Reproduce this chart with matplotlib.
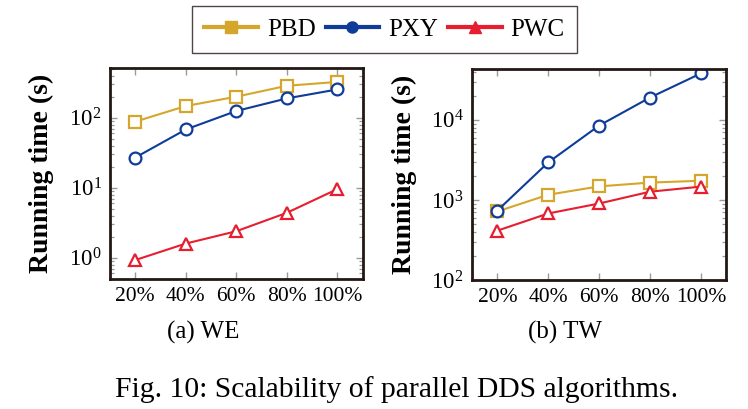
import matplotlib
matplotlib.use('Agg')
import matplotlib.pyplot as plt
from matplotlib.lines import Line2D
from matplotlib.ticker import LogLocator, NullFormatter

plt.rcParams['font.family'] = ['Liberation Serif', 'DejaVu Serif']
plt.rcParams['mathtext.fontset'] = 'stix'

fractions = [20, 40, 60, 80, 100]
frac_labels = ['20%', '40%', '60%', '80%', '100%']
series = ['PBD', 'PXY', 'PWC']

# running time (s)
we_pbd = [88, 147, 200, 286, 325]
we_pxy = [27, 68, 125, 189, 254]
we_pwc = [0.93, 1.6, 2.4, 4.4, 9.6]

tw_pbd = [720, 1165, 1480, 1650, 1740]
tw_pxy = [740, 2950, 8500, 19000, 38000]
tw_pwc = [415, 680, 905, 1270, 1470]

colors = {'PBD': '#D4A72C', 'PXY': '#0E3C98', 'PWC': '#E61E30'}
markers = {'PBD': 's', 'PXY': 'o', 'PWC': '^'}

fig = plt.figure(figsize=(7.48, 4.09), dpi=100)
ax1 = fig.add_axes([0.147, 0.318, 0.338, 0.516])
ax2 = fig.add_axes([0.631, 0.315, 0.340, 0.516])


def draw(ax, data, ylim):
    for name in series:
        ax.plot(fractions, data[name], color=colors[name], marker=markers[name],
                markersize=8.5, markerfacecolor='white', markeredgewidth=1.6,
                linewidth=1.5)
    ax.set_yscale('log')
    ax.set_ylim(*ylim)
    ax.set_xlim(10, 110)
    ax.set_xticks(fractions)
    ax.set_xticklabels(frac_labels)
    ax.yaxis.set_major_locator(LogLocator(base=10))
    ax.yaxis.set_minor_locator(LogLocator(base=10, subs=range(2, 10)))
    ax.yaxis.set_minor_formatter(NullFormatter())
    ax.tick_params(which='both', direction='in', top=True, right=True,
                   color='#9a9a9a', labelsize=15.5, pad=6)
    ax.tick_params(axis='y', which='major', labelsize=16.5)
    ax.tick_params(which='major', length=5, width=1)
    ax.tick_params(which='minor', length=3, width=0.9)
    for sp in ax.spines.values():
        sp.set_linewidth(2.0)
        sp.set_color('#231815')
    ax.set_ylabel('Running time (s)', fontsize=20, fontweight='bold')


draw(ax1, {'PBD': we_pbd, 'PXY': we_pxy, 'PWC': we_pwc}, (0.5, 515))
draw(ax2, {'PBD': tw_pbd, 'PXY': tw_pxy, 'PWC': tw_pwc}, (100, 43000))
ax1.yaxis.set_label_coords(-0.221, 0.5)
ax2.yaxis.set_label_coords(-0.217, 0.5)

handles = [Line2D([], [], color=colors[n], marker=markers[n], markersize=8,
                  markerfacecolor=colors[n], linewidth=3) for n in series]
leg = fig.legend(handles, series, loc='center', bbox_to_anchor=(0.514, 0.928),
                 ncol=3, fontsize=18, frameon=True, fancybox=False,
                 handlelength=2.15, columnspacing=0.4, handletextpad=0.35,
                 borderpad=0.5, borderaxespad=0)
leg.get_frame().set_edgecolor('#231815')
leg.get_frame().set_linewidth(1.0)

fig.text(203 / 748, 1 - 332 / 409, '(a) WE', ha='center', va='center', fontsize=18)
fig.text(565 / 748, 1 - 332 / 409, '(b) TW', ha='center', va='center', fontsize=18)
fig.text(397 / 748, 1 - 390 / 409, 'Fig. 10: Scalability of parallel DDS algorithms.',
         ha='center', va='center', fontsize=21.3)

fig.savefig('out.png', dpi=100)
